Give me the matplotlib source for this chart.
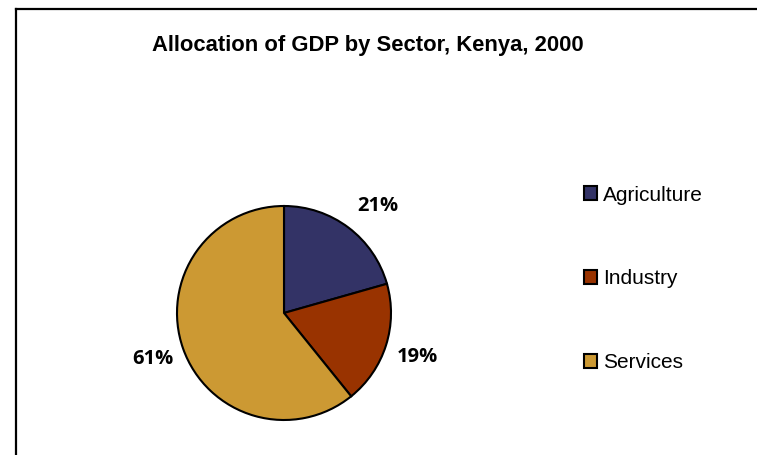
import matplotlib
matplotlib.use("Agg")
import numpy as np
from matplotlib import pyplot as plt
from matplotlib.lines import Line2D
from matplotlib.patches import Patch

sectors = ["Agriculture", "Industry", "Services"]
shares = [20.6, 18.6, 60.8]
colors = ["#333366", "#993300", "#CC9933"]
# where Excel put the % labels: angle (deg) and distance (in radii)
label_angles = [49, -18.4, -160.5]
label_dist = [1.33, 1.31, 1.30]

W, H = 757, 455
fig = plt.figure(figsize=(W / 100, H / 100), dpi=100)

# pie axes: centre (284, 313) px, radius 107 px
cx, cy, r = 284, 313, 107
ax = fig.add_axes([(cx - r) / W, (H - cy - r) / H, 2 * r / W, 2 * r / H])
wedges, _, autotexts = ax.pie(
    shares,
    colors=colors,
    startangle=90,
    counterclock=False,
    autopct="%.0f%%",
    wedgeprops={"edgecolor": "black", "linewidth": 1.5},
    textprops={"fontsize": 14.5, "fontweight": "bold", "family": "Open Sans"},
)
for t, a, d in zip(autotexts, label_angles, label_dist):
    t.set_position((d * np.cos(np.radians(a)), d * np.sin(np.radians(a))))
ax.set_xlim(-1, 1)
ax.set_ylim(-1, 1)
ax.set_aspect("equal")

fig.text(368 / W, 1 - 45 / H, "Allocation of GDP by Sector, Kenya, 2000",
         ha="center", va="center", fontsize=15.8, fontweight="bold",
         family="Liberation Sans")

handles = [Patch(facecolor=c, edgecolor="black", linewidth=1.5) for c in colors]
fig.legend(handles, sectors, loc="center left",
           bbox_to_anchor=(584 / W, 1 - 279 / H),
           frameon=False, borderpad=0, borderaxespad=0,
           handlelength=0.62, handleheight=0.62, handletextpad=0.3,
           labelspacing=3.12,
           prop={"family": "Liberation Sans", "size": 15})

# chart area border (runs off the right and bottom edges)
fig.add_artist(Line2D([16 / W, 16 / W], [0, 1 - 9 / H], color="black", linewidth=1.6))
fig.add_artist(Line2D([16 / W, 1], [1 - 9 / H, 1 - 9 / H], color="black", linewidth=1.6))

fig.savefig("out.png", dpi=100)
